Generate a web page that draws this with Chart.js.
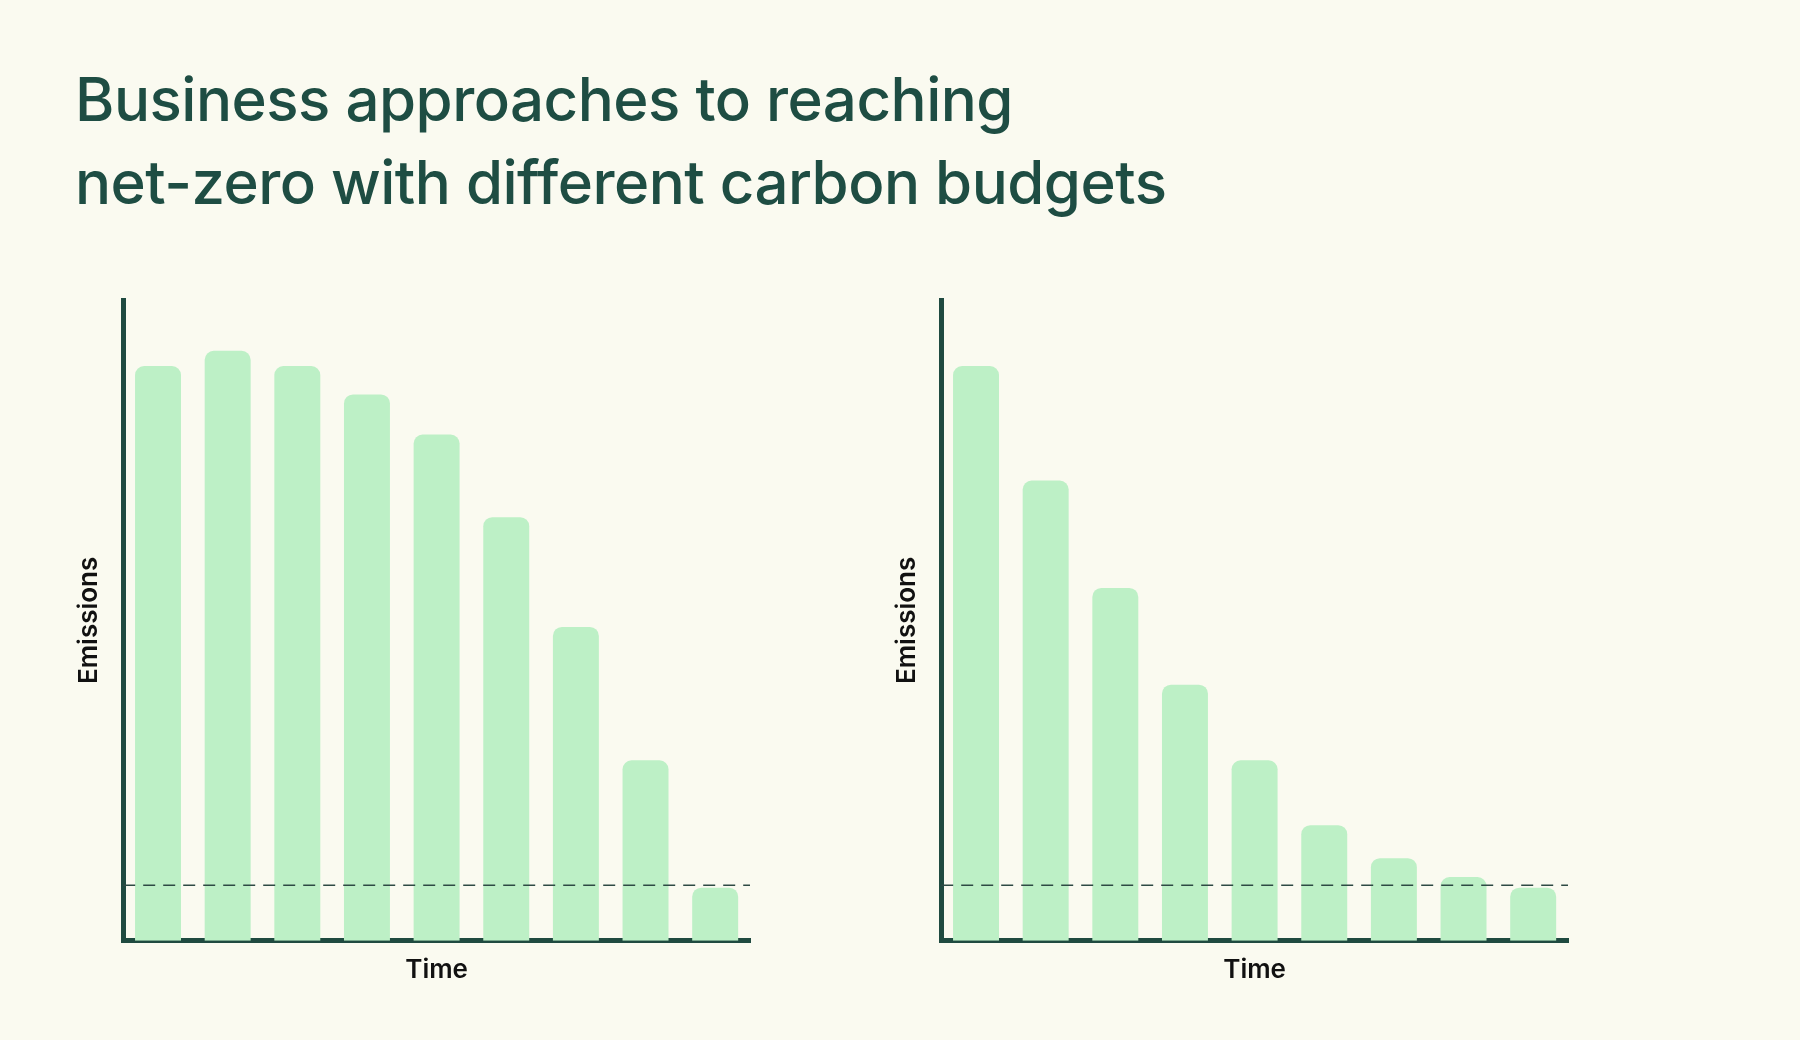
<!DOCTYPE html>
<html>
<head>
  <style>
    body {
      background-color: #FAFAF0;
      margin: 0;
      width: 1800px;
      height: 1040px;
      position: relative;
      overflow: hidden;
      font-family: Inter, "Open Sans", sans-serif;
    }
    h1 {
      position: absolute;
      left: 75px;
      top: 58px;
      margin: 0;
      font-weight: 500;
      font-size: 60px;
      line-height: 83px;
      color: #1E4D43;
      letter-spacing: -0.5px;
    }
    .box {
      position: absolute;
      top: 290px;
      width: 700px;
      height: 700px;
    }
  </style>
</head>
<body>
  <h1>Business approaches to reaching<br>net-zero with different carbon budgets</h1>
  <div class="box" style="left:70px"><canvas id="left"></canvas></div>
  <div class="box" style="left:888px"><canvas id="right"></canvas></div>

  <script src="https://cdn.jsdelivr.net/npm/chart.js"></script>
  <script>
    // bar heights (arbitrary emission units)
    var periods = ['1', '2', '3', '4', '5', '6', '7', '8', '9'];
    var steadyValues = [487, 500, 487, 463, 429, 359, 266, 153, 45];
    var earlyValues = [487, 390, 299, 217, 153, 98, 70, 54, 45];
    var netZeroLevel = 47;
    var axisMax = 543;

    var darkGreen = '#1F4A40';

    // dashed net-zero line across the plot
    var dashLine = {
      id: 'dashLine',
      afterDatasetsDraw: function(chart) {
        var ctx = chart.ctx;
        var y = chart.scales.y.getPixelForValue(netZeroLevel);
        ctx.save();
        ctx.strokeStyle = '#2E4A44';
        ctx.lineWidth = 1.5;
        ctx.setLineDash([12, 8]);
        ctx.beginPath();
        ctx.moveTo(chart.chartArea.left, y);
        ctx.lineTo(chart.chartArea.right, y);
        ctx.stroke();
        ctx.restore();
      }
    };

    function makeChart(id, values) {
      new Chart(document.getElementById(id), {
        type: 'bar',
        data: {
          labels: periods,
          datasets: [{
            data: values,
            backgroundColor: '#BDF0C6',
            borderRadius: { topLeft: 9, topRight: 9 },
            borderSkipped: 'bottom',
            barPercentage: 0.66,
            categoryPercentage: 1
          }]
        },
        options: {
          responsive: true,
          maintainAspectRatio: false,
          animation: false,
          layout: { padding: { top: 10, right: 20, bottom: 0, left: 0 } },
          plugins: { legend: { display: false }, tooltip: { enabled: false } },
          scales: {
            x: {
              grid: { display: false, drawTicks: false },
              border: { color: darkGreen, width: 5 },
              ticks: { display: false },
              title: {
                display: true, text: 'Time', color: '#111',
                font: { family: 'Inter', size: 26, weight: '600' },
                padding: { top: 14 }
              }
            },
            y: {
              min: 0, max: axisMax,
              grid: { display: false, drawTicks: false },
              border: { color: darkGreen, width: 5 },
              ticks: { display: false },
              title: {
                display: true, text: 'Emissions', color: '#111',
                font: { family: 'Inter', size: 26, weight: '600' },
                padding: { bottom: 18 }
              }
            }
          }
        },
        plugins: [dashLine]
      });
    }

    makeChart('left', steadyValues);
    makeChart('right', earlyValues);
  </script>
</body>
</html>
